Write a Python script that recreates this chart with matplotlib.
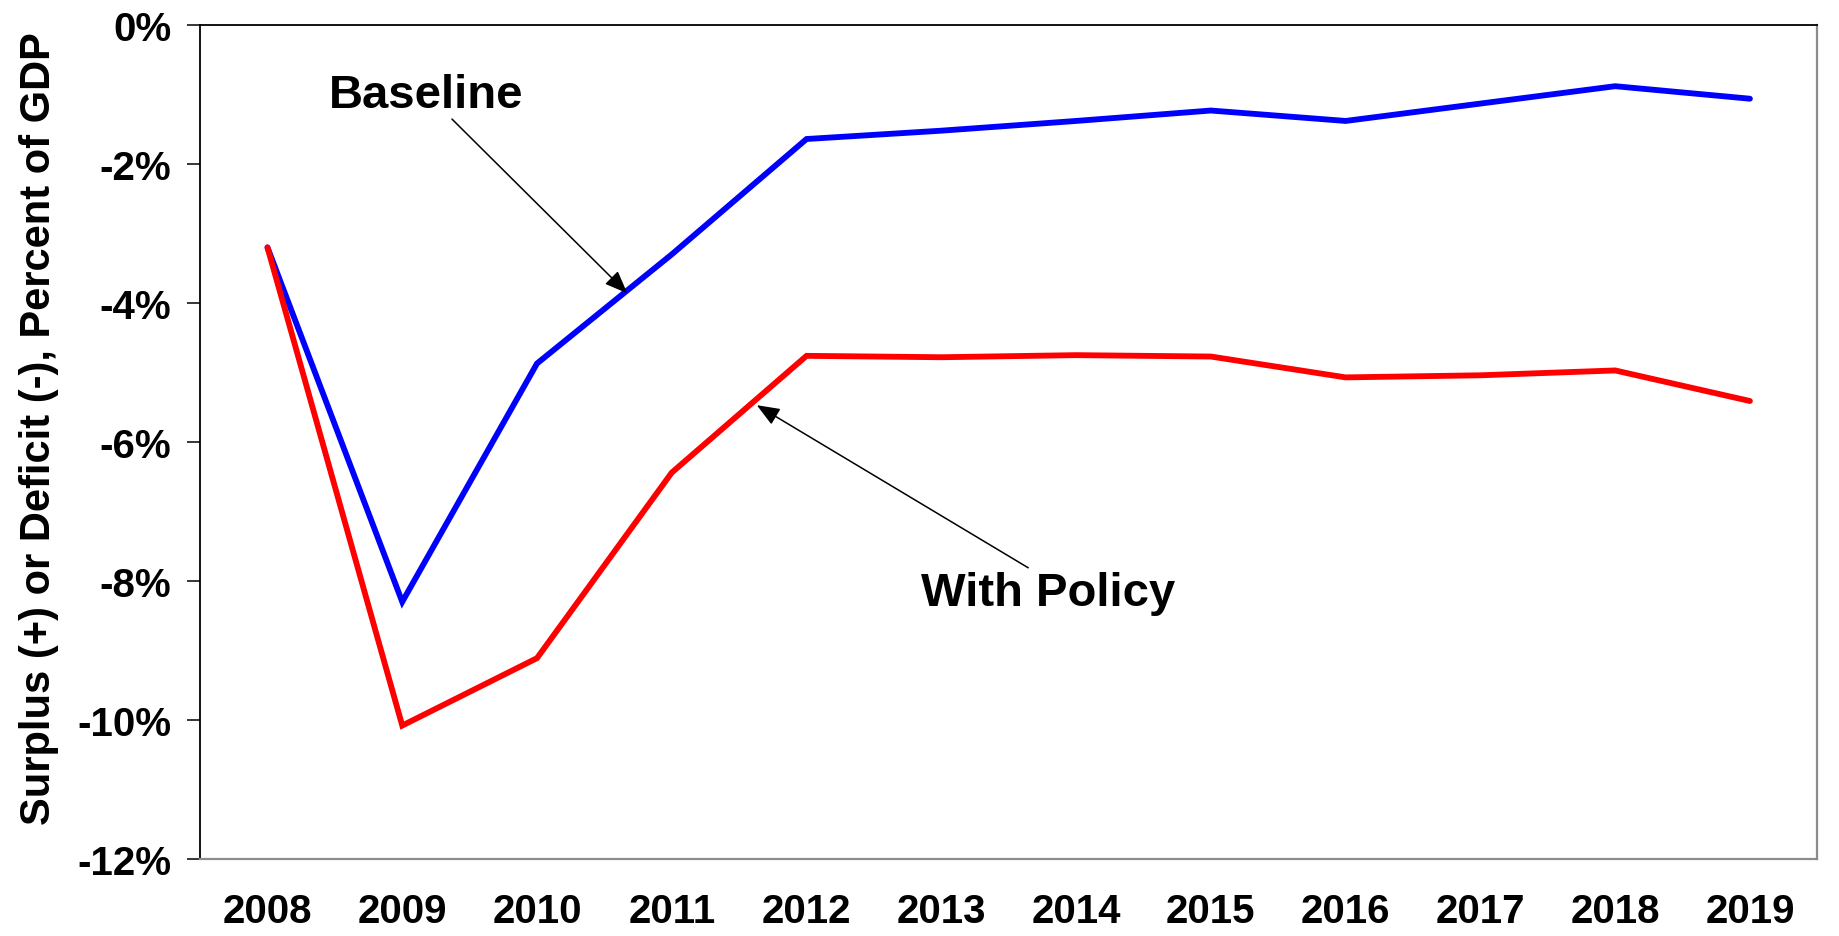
import matplotlib.pyplot as plt
import numpy as np

# deficit paths, percent of GDP
anos = ['2008', '2009', '2010', '2011', '2012', '2013', '2014', '2015', '2016', '2017', '2018', '2019']
baseline = [-3.2, -8.3, -4.87, -3.3, -1.64, -1.52, -1.38, -1.23, -1.38, -1.13, -0.88, -1.06]
policy = [-3.2, -10.08, -9.11, -6.44, -4.76, -4.78, -4.75, -4.77, -5.07, -5.04, -4.97, -5.41]
yt = [0, -2, -4, -6, -8, -10, -12]
ytl = ['0%', '-2%', '-4%', '-6%', '-8%', '-10%', '-12%']

plt.rcParams['font.family'] = ['Liberation Sans', 'DejaVu Sans']
plt.rcParams['font.weight'] = 'bold'

fig = plt.figure(figsize=(18.39, 9.37), dpi=100)
ax = fig.add_axes([0.1088, 0.0822, 0.8794, 0.8900])

xx = np.arange(len(anos))
ax.plot(xx, baseline, color='#0000ff', lw=4.2, solid_joinstyle='miter', solid_capstyle='round')
ax.plot(xx, policy, color='#ff0000', lw=4.2, solid_joinstyle='miter', solid_capstyle='round')

ax.set_xlim(-0.5, len(anos) - 0.5)
ax.set_ylim(-12, 0)
ax.set_xticks(xx)
ax.set_xticklabels(anos, fontsize=29, fontweight='bold')
ax.set_yticks(yt)
ax.set_yticklabels(ytl, fontsize=29, fontweight='bold')
ax.tick_params(axis='x', length=0, pad=24)
ax.tick_params(axis='y', direction='out', length=9.5, width=1.1, pad=11)

ax.set_ylabel('Surplus (+) or Deficit (-), Percent of GDP', fontsize=30, fontweight='bold')
ax.yaxis.set_label_coords(-0.087, 0.517)

for s in ['top', 'left']:
    ax.spines[s].set_color('black')
    ax.spines[s].set_linewidth(1.3)
for s in ['bottom', 'right']:
    ax.spines[s].set_color('#8c8c8c')
    ax.spines[s].set_linewidth(1.6)

# labels with pointer arrows
seta = dict(arrowstyle='-|>,head_length=0.7,head_width=0.28', mutation_scale=20,
            color='black', lw=1.1, shrinkA=0, shrinkB=0)
ax.text(1.177, -1.0, 'Baseline', fontsize=34, fontweight='bold', ha='center', va='center')
ax.annotate('', xy=(2.67, -3.86), xytext=(1.369, -1.353), arrowprops=seta)
ax.text(5.79, -8.17, 'With Policy', fontsize=34, fontweight='bold', ha='center', va='center')
ax.annotate('', xy=(3.631, -5.47), xytext=(5.645, -7.81), arrowprops=seta)

plt.savefig('out.png', dpi=100)
